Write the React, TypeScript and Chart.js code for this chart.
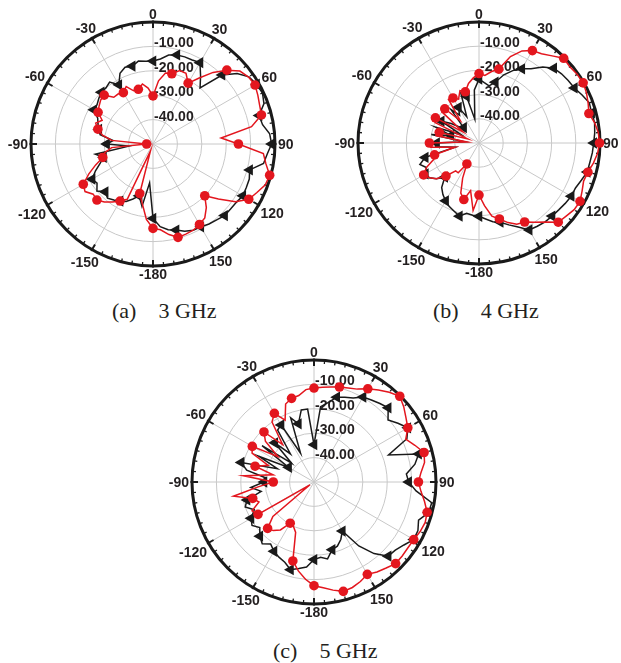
import React, { useEffect, useRef } from 'react';
import { Chart, registerables } from 'chart.js';

Chart.register(...registerables);

// Angle categories (degrees), clockwise from top, 5° step
const ANGLES = [
  0, 5, 10, 15, 20, 25, 30, 35, 40, 45, 50, 55, 60, 65, 70, 75, 80, 85,
  90, 95, 100, 105, 110, 115, 120, 125, 130, 135, 140, 145, 150, 155, 160, 165, 170, 175,
  -180, -175, -170, -165, -160, -155, -150, -145, -140, -135, -130, -125, -120, -115, -110, -105, -100, -95,
  -90, -85, -80, -75, -70, -65, -60, -55, -50, -45, -40, -35, -30, -25, -20, -15, -10, -5,
];

// Angle tick labels shown around the rim
const ANGLE_TICKS = [0, 30, 60, 90, 120, 150, -180, -150, -120, -90, -60, -30];

// Radial tick labels (dB)
const RING_VALUES = [-10, -20, -30, -40];
const RING_LABELS = ['-10.00', '-20.00', '-30.00', '-40.00'];

// (a) 3 GHz
const A_BLACK = [
  -16, -15, -13, -12.2, -12, -12, -11.5, -16, -20, -10, -5, -2, -1, -0.5, -1.6, -5, -4.4, -2,
  -1.4, -3, -4, -9, -8, -7.8, -7.5, -8.3, -8.5, -8.5, -9.4, -10, -10.8, -11, -12, -13.5, -14.3, -16,
  -19.5, -34, -24, -28, -26, -24, -23, -22, -21, -22.3, -20, -22, -21.2, -24, -27, -29, -26, -40,
  -31, -33.6, -28, -27, -26, -25, -22, -22, -21, -20, -20, -19, -22, -18, -16.5, -17, -15.5, -16,
];
const A_RED = [
  -30.3, -24, -20.5, -20.2, -18, -18, -21.2, -17, -11.7, -7.2, -3.5, -2.2, -1.7, -2.6, -3.5, -4, -9, -22,
  -15, -4.6, -3, -0.5, -1, -3, -4.7, -8.7, -15, -20, -16, -13, -11.9, -11, -10.7, -10.4, -12.3, -14.7,
  -15.4, -19, -25, -29, -47, -25, -23, -21, -19, -17.5, -18, -16, -17, -21, -25, -28.7, -30, -33,
  -47.4, -33, -29, -26.6, -25, -27, -24, -23, -22, -21.7, -25, -25, -25.7, -24, -26.8, -26.8, -25, -27,
];

// (b) 4 GHz
const B_BLACK = [
  -23.6, -25, -26, -24, -20, -17, -14.6, -12.5, -9, -6.3, -5.5, -5, -4.5, -3, -1.5, -1.8, -1.5, -2,
  -2.6, -3, -3.5, -3.7, -5, -6, -6, -6.5, -7, -7.3, -7.5, -8, -8.5, -11.7, -14, -16.1, -17, -18.5,
  -19.7, -20, -20.5, -18.7, -20, -21, -22.4, -24, -26, -30, -27, -25, -24.4, -26, -24, -27, -40, -32,
  -32.5, -44, -30, -38, -31, -42, -32, -36, -40, -41, -32, -36, -33, -38, -28, -30, -40, -28,
];
const B_RED = [
  -21.3, -22, -20, -18.4, -12, -8, -5.9, -5, -3, -0.5, -1, -0.5, -0.3, -1, -2, -3, -1.5, -0.5,
  -0.2, -0.8, -2, -3.4, -4, -3, -1.8, -2, -3, -3.7, -7.4, -10, -12.3, -13, -15, -17.5, -19.3, -24,
  -28.5, -22, -30, -25.8, -28, -34, -40, -35, -35, -30.7, -27, -25, -23.6, -26, -30, -31, -40, -30,
  -29.5, -45, -32, -33, -45, -30, -29.2, -42, -30, -30, -38, -28, -28.5, -30, -27, -28.1, -25, -23,
];

// (c) 5 GHz
const C_BLACK = [
  -34.7, -19, -17, -14, -13, -12, -9.8, -9, -8, -7, -10.4, -8, -5.6, -8, -17.5, -5.6, -8, -12,
  -11.2, -8, -1, -1.4, -4.4, -3, -2.8, -5, -6.5, -7, -11.7, -18, -26.8, -24, -22, -21.3, -18, -19,
  -18.2, -15, -14, -12.8, -15, -16, -17.2, -19, -17, -18.6, -21, -19, -20.2, -23, -20, -21.6, -28, -24,
  -29.5, -30, -22, -19.1, -34, -25, -38, -24, -38, -27.3, -35, -24, -23, -37, -22, -25.3, -20, -20,
];
const C_RED = [
  -11.5, -11, -10.5, -9.7, -9, -8, -5.9, -4, -2, -0.3, -2, -4, -5.6, -8.5, -6, -3.3, -4, -6,
  -7.2, -6, -4, -2, -1.5, -2, -2.8, -3, -2.8, -2.7, -4, -5, -6.3, -5, -4, -3.6, -5, -6.5,
  -7.5, -10, -13, -16.5, -28, -30, -30.5, -26, -24, -23.1, -28, -48, -23.5, -22, -26, -24, -16.5, -27,
  -33.3, -21, -33, -25, -30, -22, -20.8, -32, -24, -21, -30, -20, -17.5, -22, -16, -14.5, -14, -12,
];

const BLACK = '#1a1a1a';
const RED = '#e3161e';
const GRID = '#c8c8c8';
const FONT = 'bold 14px "Liberation Sans", Arial, sans-serif';

const decorPlugin = {
  id: 'polarDecor',
  beforeDatasetsDraw(chart: any) {
    const s = chart.scales.r;
    const ctx = chart.ctx;
    const R = s.drawingArea;
    const cx = s.xCenter;
    const cy = s.yCenter;
    ctx.save();
    // rim ticks
    ctx.strokeStyle = BLACK;
    ctx.lineCap = 'butt';
    for (let i = 0; i < ANGLES.length; i++) {
      const major = ANGLES[i] % 30 === 0;
      const p1 = s.getPointPosition(i, R - (major ? 6 : 3.5));
      const p2 = s.getPointPosition(i, R + (major ? 1.5 : 0.5));
      ctx.lineWidth = major ? 2 : 1.3;
      ctx.beginPath();
      ctx.moveTo(p1.x, p1.y);
      ctx.lineTo(p2.x, p2.y);
      ctx.stroke();
    }
    // radial labels
    ctx.font = FONT;
    ctx.fillStyle = '#231f20';
    ctx.textAlign = 'left';
    ctx.textBaseline = 'alphabetic';
    RING_VALUES.forEach((v, k) => {
      const d = s.getDistanceFromCenterForValue(v);
      ctx.fillText(RING_LABELS[k], cx + 1, cy - d + 1);
    });
    // angle labels
    ctx.textAlign = 'center';
    ANGLE_TICKS.forEach((a) => {
      const i = ANGLES.indexOf(a);
      const text = String(a);
      const w = ctx.measureText(text).width;
      const th = (a * Math.PI) / 180;
      const d = R + 3 + (Math.abs(Math.sin(th)) * w) / 2 + Math.abs(Math.cos(th)) * 5;
      const p = s.getPointPosition(i, d);
      ctx.fillText(text, p.x, p.y + 5);
    });
    ctx.restore();
  },
};

type PolarProps = { black: number[]; red: number[]; left: number; top: number; radius: number };

function PolarChart({ black, red, left, top, radius }: PolarProps) {
  const ref = useRef<HTMLCanvasElement | null>(null);
  useEffect(() => {
    if (!ref.current) return;
    const W = 300;
    const H = 290;
    const padX = W / 2 - radius;
    const padY = H / 2 - radius;
    const chart = new Chart(ref.current, {
      type: 'radar',
      data: {
        labels: ANGLES.map(String),
        datasets: [
          {
            data: red,
            borderColor: RED,
            backgroundColor: RED,
            borderWidth: 1.5,
            fill: false,
            pointStyle: 'circle',
            pointRadius: (c: any) => (c.dataIndex % 3 === 0 ? 4.8 : 0),
            pointBorderWidth: 0,
            pointHoverRadius: 0,
            pointHitRadius: 0,
          },
          {
            data: black,
            borderColor: BLACK,
            backgroundColor: BLACK,
            borderWidth: 1.5,
            fill: false,
            pointStyle: 'triangle',
            pointRotation: -90,
            pointRadius: (c: any) => (c.dataIndex % 3 === 0 ? 6.5 : 0),
            pointBorderWidth: 0,
            pointHoverRadius: 0,
            pointHitRadius: 0,
          },
        ],
      },
      options: {
        responsive: false,
        animation: false,
        devicePixelRatio: 1,
        layout: { padding: { left: padX, right: padX, top: padY, bottom: padY } },
        plugins: { legend: { display: false }, tooltip: { enabled: false } },
        elements: { line: { tension: 0 } },
        scales: {
          r: {
            min: -50,
            max: 0,
            startAngle: 0,
            ticks: { display: false, stepSize: 10 },
            pointLabels: { display: false },
            grid: {
              circular: true,
              color: (c: any) => (c.tick && c.tick.value === 0 ? BLACK : GRID),
              lineWidth: (c: any) => (c.tick && c.tick.value === 0 ? 3 : 1),
            },
            angleLines: {
              color: (c: any) => (c.index % 6 === 0 ? GRID : 'rgba(0,0,0,0)'),
              lineWidth: (c: any) => (c.index % 6 === 0 ? 1 : 0),
            },
          },
        },
      } as any,
      plugins: [decorPlugin],
    });
    return () => chart.destroy();
  }, [black, red, radius]);
  return (
    <canvas
      ref={ref}
      width={300}
      height={290}
      style={{ position: 'absolute', left, top, width: 300, height: 290 }}
    />
  );
}

const captionStyle: React.CSSProperties = {
  position: 'absolute',
  fontFamily: '"Liberation Serif", "Times New Roman", serif',
  fontSize: 22,
  lineHeight: '22px',
  color: '#231f20',
  whiteSpace: 'pre',
  display: 'flex',
  gap: 22,
};

export default function App() {
  return (
    <div
      style={{
        position: 'absolute',
        left: 0,
        top: 0,
        width: 621,
        height: 663,
        overflow: 'hidden',
        background: '#fff',
      }}
    >
      <PolarChart black={A_BLACK} red={A_RED} left={3} top={-1} radius={122} />
      <PolarChart black={B_BLACK} red={B_RED} left={329} top={-2} radius={121} />
      <PolarChart black={C_BLACK} red={C_RED} left={164} top={337} radius={122} />
      <div style={{ ...captionStyle, left: 112, top: 300 }}>
        <span>(a)</span>
        <span>3 GHz</span>
      </div>
      <div style={{ ...captionStyle, left: 433, top: 300 }}>
        <span>(b)</span>
        <span>4 GHz</span>
      </div>
      <div style={{ ...captionStyle, left: 273, top: 640 }}>
        <span>(c)</span>
        <span>5 GHz</span>
      </div>
    </div>
  );
}
